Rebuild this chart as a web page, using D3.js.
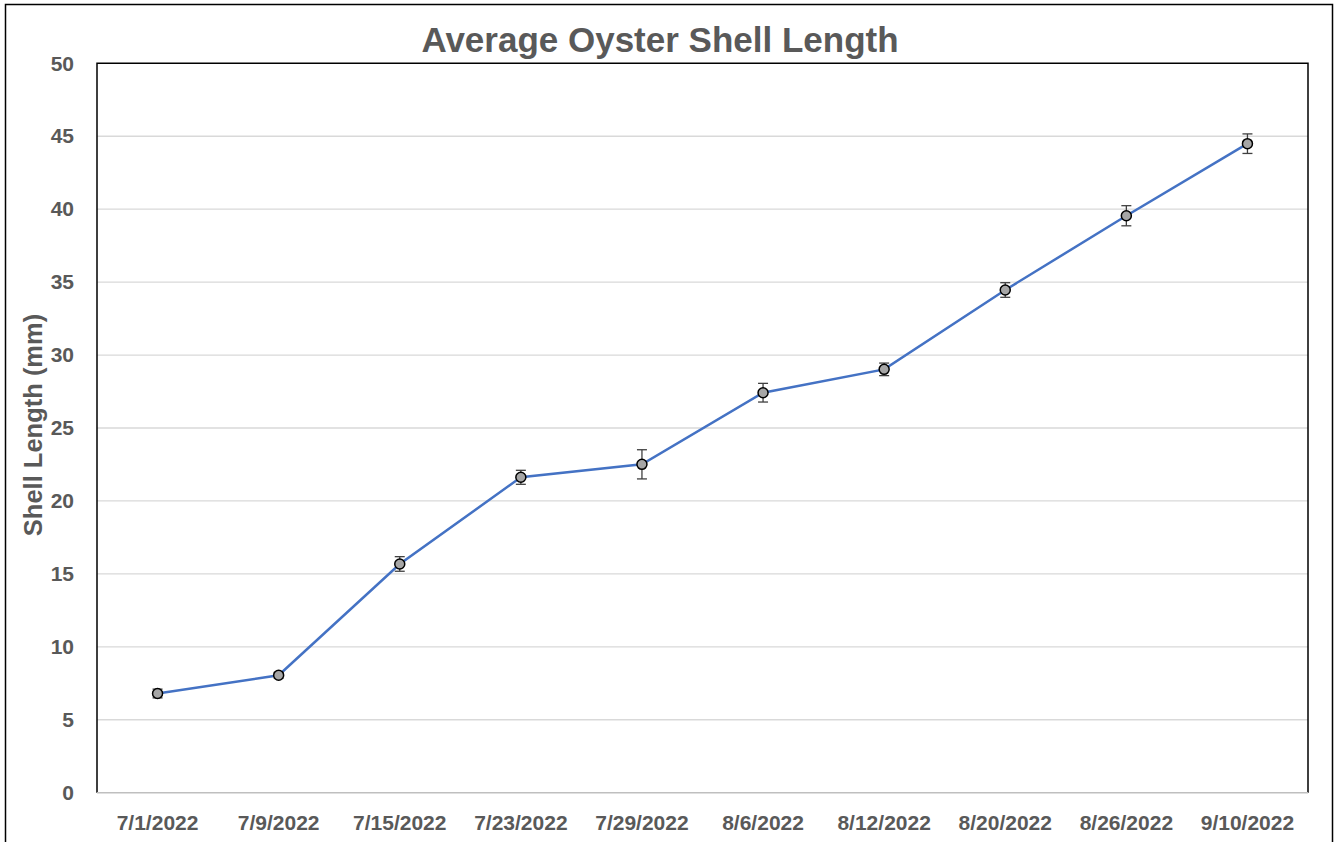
<!DOCTYPE html>
<html><head><meta charset="utf-8">
<script src="https://cdn.jsdelivr.net/npm/d3@7"></script>
<style>body{margin:0;background:#fff}svg{display:block}</style>
</head><body>
<script>
const categories = ["7/1/2022","7/9/2022","7/15/2022","7/23/2022","7/29/2022","8/6/2022","8/12/2022","8/20/2022","8/26/2022","9/10/2022"];
const meanLength = [6.8, 8.05, 15.68, 21.62, 22.51, 27.42, 29.02, 34.46, 39.55, 44.49];
const errLength = [0.3, 0.2, 0.5, 0.48, 1.0, 0.64, 0.43, 0.5, 0.69, 0.67];
const yTicks = [0,5,10,15,20,25,30,35,40,45,50];
const title = "Average Oyster Shell Length";
const yLabel = "Shell Length (mm)";

const W = 1335, H = 842;
const m = {l: 97, r: 1308, t: 63.3, b: 792.7};
const svg = d3.select("body").append("svg").attr("width", W).attr("height", H);
const font = "'Liberation Sans', Arial, sans-serif";
const gray = "#595959";

svg.append("rect").attr("x",5.5).attr("y",4.5).attr("width",1327).attr("height",860)
  .attr("fill","#fff").attr("stroke","#000").attr("stroke-width",1.5);

const x = d3.scaleBand().domain(categories).range([m.l, m.r]);
const y = d3.scaleLinear().domain([0,50]).range([m.b, m.t]);

// gridlines
svg.append("g").selectAll("line").data(yTicks.filter(d=>d>0 && d<50)).join("line")
  .attr("x1",m.l).attr("x2",m.r).attr("y1",d=>y(d)).attr("y2",d=>y(d))
  .attr("stroke","#d9d9d9").attr("stroke-width",1.3);

// plot border
svg.append("path").attr("d",`M${m.l},${m.b}V${m.t}H${m.r}V${m.b}`)
  .attr("fill","none").attr("stroke","#000").attr("stroke-width",1.5);
svg.append("line").attr("x1",m.l).attr("x2",m.r).attr("y1",m.b).attr("y2",m.b)
  .attr("stroke","#bfbfbf").attr("stroke-width",1.5);

// y axis
const ya = svg.append("g").attr("transform",`translate(${m.l},0)`)
  .call(d3.axisLeft(y).tickValues(yTicks).tickSize(0).tickPadding(23));
ya.select(".domain").remove();
ya.selectAll("text").attr("font-family",font).attr("font-weight","bold")
  .attr("font-size",21).attr("fill",gray);

// x axis
const xa = svg.append("g").attr("transform",`translate(0,${m.b})`)
  .call(d3.axisBottom(x).tickSize(0).tickPadding(22));
xa.select(".domain").remove();
xa.selectAll("text").attr("font-family",font).attr("font-weight","bold")
  .attr("font-size",21).attr("fill",gray);

// title
svg.append("text").attr("x",660).attr("y",52).attr("text-anchor","middle")
  .attr("font-family",font).attr("font-weight","bold").attr("font-size",35)
  .attr("fill",gray).text(title);

// y label
svg.append("text").attr("transform",`translate(42,${(m.t+m.b)/2 - 3}) rotate(-90)`)
  .attr("text-anchor","middle").attr("font-family",font).attr("font-weight","bold")
  .attr("font-size",25.5).attr("fill",gray).text(yLabel);

const cx = d => x(d) + x.bandwidth()/2;

// line
svg.append("path").datum(categories.map((c,i)=>[cx(c), y(meanLength[i])]))
  .attr("d", d3.line()).attr("fill","none").attr("stroke","#4472C4").attr("stroke-width",2.5);

// error bars
const eb = svg.append("g").attr("stroke","#404040").attr("stroke-width",1.3);
categories.forEach((c,i)=>{
  const X = cx(c), y1 = y(meanLength[i]-errLength[i]), y2 = y(meanLength[i]+errLength[i]);
  eb.append("line").attr("x1",X).attr("x2",X).attr("y1",y1).attr("y2",y2);
  eb.append("line").attr("x1",X-5).attr("x2",X+5).attr("y1",y1).attr("y2",y1);
  eb.append("line").attr("x1",X-5).attr("x2",X+5).attr("y1",y2).attr("y2",y2);
});

// markers
svg.append("g").selectAll("circle").data(categories).join("circle")
  .attr("cx",d=>cx(d)).attr("cy",(d,i)=>y(meanLength[i])).attr("r",5)
  .attr("fill","#a6a6a6").attr("stroke","#000").attr("stroke-width",1.5);
</script>
</body></html>
